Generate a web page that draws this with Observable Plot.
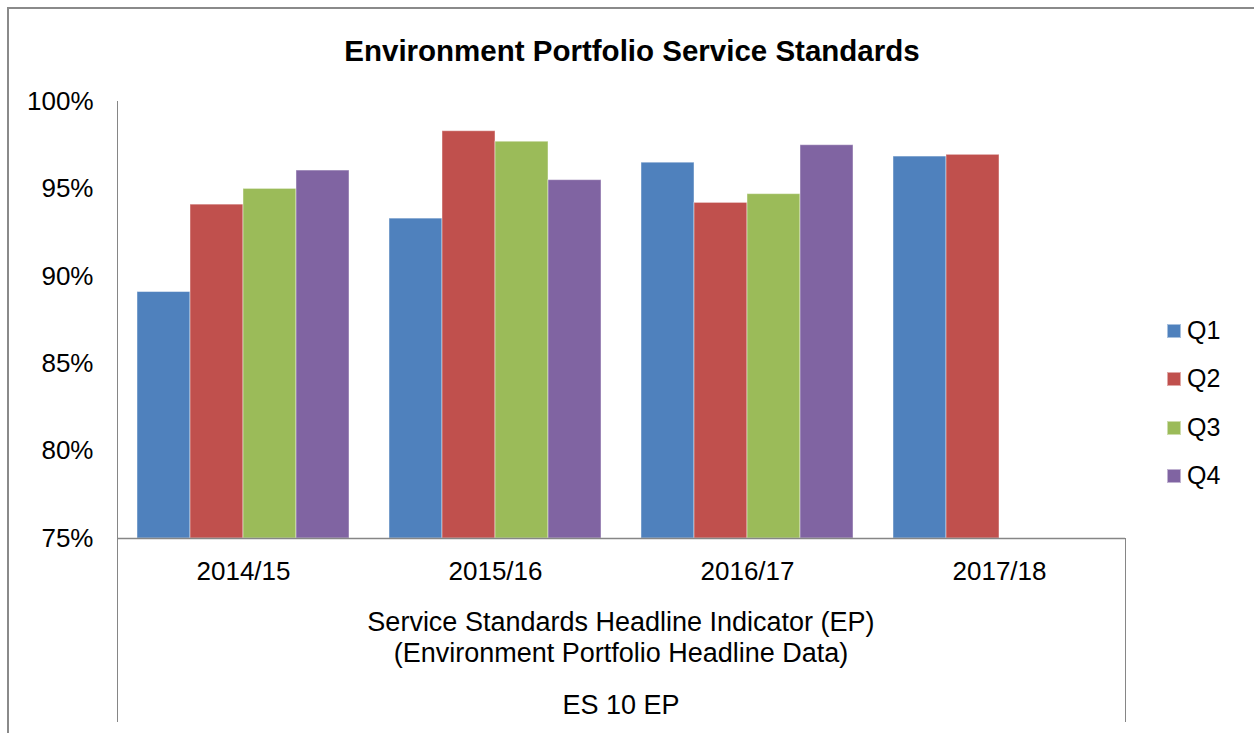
<!DOCTYPE html>
<html>
<head>
<meta charset="utf-8">
<script src="https://cdn.jsdelivr.net/npm/d3@7"></script>
<script src="https://cdn.jsdelivr.net/npm/@observablehq/plot@0.6"></script>
<style>
  body { margin: 0; background: #fff; font-family: "Liberation Sans", Arial, sans-serif; }
  #wrap { position: relative; width: 1254px; height: 733px; overflow: hidden; background: #fff; }
  #wrap svg { position: absolute; left: 0; top: 0; }
  .abs { position: absolute; }
  .txt { color: #000; text-align: center; white-space: nowrap; }
  .legend-row { position: absolute; left: 1167px; height: 30px; line-height: 30px; font-size: 25px; color: #000; white-space: nowrap; }
  .legend-row span.sw { display: inline-block; width: 14px; height: 14px; margin-right: 6px; vertical-align: 1px; box-sizing: border-box; border: 1px solid rgba(255,255,255,0.5); }
</style>
</head>
<body>
<div id="wrap"></div>
<script>
// ---- data ----
const years = ["2014/15", "2015/16", "2016/17", "2017/18"];
const quarters = ["Q1", "Q2", "Q3", "Q4"];
const q1Values = [89.1, 93.3, 96.5, 96.85];
const q2Values = [94.1, 98.3, 94.2, 96.95];
const q3Values = [95.0, 97.7, 94.7, null];
const q4Values = [96.05, 95.5, 97.5, null];
const yTicks = [75, 80, 85, 90, 95, 100];
const colors = ["#4F81BD", "#C0504D", "#9BBB59", "#8064A2"];
const titleText = "Environment Portfolio Service Standards";
const axisTitleLines = ["Service Standards Headline Indicator (EP)", "(Environment Portfolio Headline Data)"];
const axisCode = "ES 10 EP";

// ---- build table ----
const series = [q1Values, q2Values, q3Values, q4Values];
const data = [];
years.forEach((yr, i) => quarters.forEach((q, j) => {
  const v = series[j][i];
  if (v != null) data.push({year: yr, quarter: q, value: v});
}));

const font = '"Liberation Sans", Arial, sans-serif';
const wrap = document.getElementById("wrap");

const chart = Plot.plot({
  width: 1254,
  height: 733,
  marginLeft: 117,
  marginRight: 129,
  marginTop: 101,
  marginBottom: 195,
  style: {fontFamily: font, fontSize: "26px", color: "#000", background: "transparent", overflow: "visible"},
  fx: {domain: years, padding: 0, axis: "bottom", label: null, tickSize: 0, tickPadding: 23},
  x: {domain: quarters, paddingInner: 0, paddingOuter: 0.377, axis: null},
  y: {domain: [yTicks[0], yTicks[yTicks.length - 1]], ticks: yTicks, tickFormat: d => d + "%", tickSize: 0, tickPadding: 24, label: null},
  color: {domain: quarters, range: colors},
  marks: [
    Plot.barY(data, {fx: "year", x: "quarter", y1: yTicks[0], y2: "value", fill: "quarter",
      stroke: "#fff", strokeOpacity: 0.45, strokeWidth: 1}),
    Plot.ruleY([yTicks[0]], {stroke: "#868686", strokeWidth: 1.3})
  ]
});
wrap.appendChild(chart);

function addDiv(cls, css, text) {
  const d = document.createElement("div");
  d.className = cls;
  d.setAttribute("style", css);
  if (text != null) d.textContent = text;
  wrap.appendChild(d);
  return d;
}

// outer chart border
addDiv("abs", "left:7px;top:7px;width:1400px;height:900px;border-top:2px solid #8a8a8a;border-left:2px solid #8a8a8a;");
// axis lines (decoration)
addDiv("abs", "left:116.5px;top:101px;width:1.3px;height:621px;background:#868686;");
addDiv("abs", "left:1124.5px;top:538px;width:1.3px;height:184px;background:#868686;");

// title
addDiv("abs txt", `left:10px;top:35px;width:1244px;font:bold 29.5px/32px ${font};`, titleText);

// multi-level axis titles
addDiv("abs txt", `left:117px;top:606px;width:1008px;font:27px/32px ${font};`, axisTitleLines[0]);
addDiv("abs txt", `left:117px;top:637px;width:1008px;font:27px/32px ${font};`, axisTitleLines[1]);
addDiv("abs txt", `left:117px;top:689px;width:1008px;font:27px/32px ${font};`, axisCode);

// legend
const legendCenters = [330, 378, 427, 475];
quarters.forEach((q, i) => {
  const row = addDiv("legend-row", `top:${legendCenters[i] - 15}px;`);
  const sw = document.createElement("span");
  sw.className = "sw";
  sw.style.background = colors[i];
  row.appendChild(sw);
  row.appendChild(document.createTextNode(q));
});
</script>
</body>
</html>
